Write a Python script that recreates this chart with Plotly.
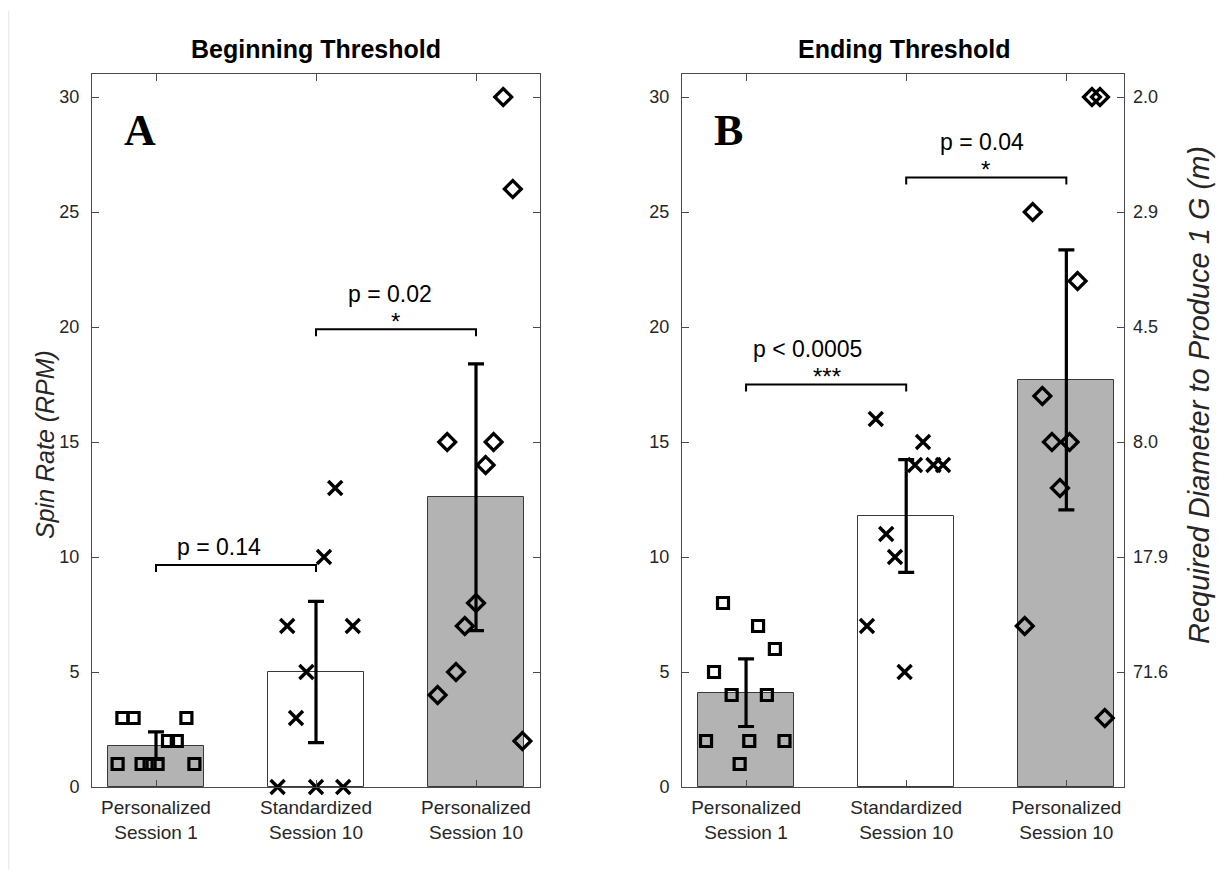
import plotly.graph_objects as go

# ---------------- data ----------------
categories = ["Personalized<br>Session 1", "Standardized<br>Session 10", "Personalized<br>Session 10"]
cat_pos = [1, 2, 3]

# Panel A - Beginning Threshold
a_s1_x = [0.79, 0.86, 1.19, 1.075, 1.13, 0.76, 0.91, 0.96, 1.01, 1.24]
a_s1_y = [3, 3, 3, 2, 2, 1, 1, 1, 1, 1]
a_std_x = [1.82, 2.23, 1.94, 1.875, 1.76, 2.0, 2.17, 2.05, 2.12]
a_std_y = [7, 7, 5, 3, 0, 0, 0, 10, 13]
a_p10_x = [3.17, 3.23, 2.82, 3.11, 3.06, 3.0, 2.93, 2.875, 2.76, 3.29]
a_p10_y = [30, 26, 15, 15, 14, 8, 7, 5, 4, 2]
a_means = [1.8, 5.0, 12.6]
a_err = [0.6, 3.07, 5.8]

# Panel B - Ending Threshold
b_s1_x = [0.856, 1.075, 1.18, 0.80, 0.91, 1.13, 0.75, 1.02, 1.24, 0.96]
b_s1_y = [8, 7, 6, 5, 4, 4, 2, 2, 2, 1]
b_std_x = [1.81, 2.105, 2.055, 2.17, 2.23, 1.875, 1.93, 1.755, 1.99]
b_std_y = [16, 15, 14, 14, 14, 11, 10, 7, 5]
b_p10_x = [3.16, 3.21, 2.79, 3.07, 2.85, 2.91, 3.02, 2.96, 2.74, 3.24]
b_p10_y = [30, 30, 25, 22, 17, 15, 15, 13, 7, 3]
b_means = [4.1, 11.78, 17.7]
b_err = [1.47, 2.45, 5.65]

# significance brackets: (from, to, level, p text, stars)
a_brackets = [(1, 2, 9.65, "p = 0.14", ""), (2, 3, 19.9, "p = 0.02", "*")]
b_brackets = [(1, 2, 17.5, "p < 0.0005", "***"), (2, 3, 26.5, "p = 0.04", "*")]

# right axis: diameter required to produce 1 G at given RPM
diam_ticks = [5, 10, 15, 20, 25, 30]
diam_labels = ["71.6", "17.9", "8.0", "4.5", "2.9", "2.0"]

bar_colors = ["#b3b3b3", "#ffffff", "#b3b3b3"]
FONT = "Liberation Sans"

# page body has an 8px margin; size the figure so it fits the 1228x878 window
OFF = 8
W, H = 1228 - 2 * OFF, 878 - 2 * OFF


def px(x):
    return (x - OFF) / W


def py(y):
    return 1 - (y - OFF) / H


fig = go.Figure()


def add_panel(xa, ya, s1x, s1y, stx, sty, p10x, p10y, means, err):
    fig.add_trace(go.Bar(
        x=cat_pos, y=means, width=0.6, xaxis=xa, yaxis=ya,
        marker=dict(color=bar_colors, line=dict(color="#3a3a3a", width=1)),
        error_y=dict(type="data", array=err, thickness=3.2, width=8, color="black"),
        showlegend=False, hoverinfo="skip"))
    fig.add_trace(go.Scatter(
        x=s1x, y=s1y, mode="markers", xaxis=xa, yaxis=ya, showlegend=False,
        marker=dict(symbol="square-open", size=11, color="black",
                    line=dict(width=3.2, color="black")), cliponaxis=False))
    fig.add_trace(go.Scatter(
        x=stx, y=sty, mode="markers", xaxis=xa, yaxis=ya, showlegend=False,
        marker=dict(symbol="x-thin", size=14, color="black",
                    line=dict(width=3.4, color="black")), cliponaxis=False))
    fig.add_trace(go.Scatter(
        x=p10x, y=p10y, mode="markers", xaxis=xa, yaxis=ya, showlegend=False,
        marker=dict(symbol="diamond-open", size=13, color="black",
                    line=dict(width=3.2, color="black")), cliponaxis=False))


add_panel("x", "y", a_s1_x, a_s1_y, a_std_x, a_std_y, a_p10_x, a_p10_y, a_means, a_err)
add_panel("x2", "y2", b_s1_x, b_s1_y, b_std_x, b_std_y, b_p10_x, b_p10_y, b_means, b_err)

annotations = []


def add_brackets(xa, ya, brackets, shifts):
    for (x1, x2, lev, ptxt, stars), (sx_p, sx_s) in zip(brackets, shifts):
        fig.add_trace(go.Scatter(
            x=[x1, x1, x2, x2], y=[lev - 0.3, lev, lev, lev - 0.3], mode="lines",
            xaxis=xa, yaxis=ya, showlegend=False, hoverinfo="skip",
            line=dict(color="black", width=2)))
        mid = (x1 + x2) / 2
        if stars:
            annotations.append(dict(x=mid, y=lev, xref=xa, yref=ya, text=ptxt,
                                    showarrow=False, xshift=sx_p, yshift=35,
                                    font=dict(family=FONT, size=23, color="black")))
            annotations.append(dict(x=mid, y=lev, xref=xa, yref=ya, text=stars,
                                    showarrow=False, xshift=sx_s, yshift=8,
                                    font=dict(family=FONT, size=24, color="black")))
        else:
            annotations.append(dict(x=mid, y=lev, xref=xa, yref=ya, text=ptxt,
                                    showarrow=False, xshift=sx_p, yshift=18,
                                    font=dict(family=FONT, size=23, color="black")))


add_brackets("x", "y", a_brackets, [(-17, 0), (-6, -1)])
add_brackets("x2", "y2", b_brackets, [(-19, 1), (-4, -1)])

# titles and panel letters
for xc, txt in [(316, "<b>Beginning Threshold</b>"), (904, "<b>Ending Threshold</b>")]:
    annotations.append(dict(x=px(xc), y=py(49), xref="paper", yref="paper", text=txt,
                            xanchor="center", yanchor="middle", showarrow=False,
                            font=dict(family=FONT, size=25, color="black")))
for xc, txt in [(140, "<b>A</b>"), (728, "<b>B</b>")]:
    annotations.append(dict(x=px(xc), y=py(130), xref="paper", yref="paper", text=txt,
                            xanchor="center", yanchor="middle", showarrow=False,
                            font=dict(family="Liberation Serif", size=44, color="black")))

# axis titles
annotations.append(dict(x=px(45), y=py(445), xref="paper", yref="paper",
                        text="<i>Spin Rate (RPM)</i>", textangle=-90, showarrow=False,
                        xanchor="center", yanchor="middle",
                        font=dict(family=FONT, size=25, color="#262626")))
annotations.append(dict(x=px(1199), y=py(395), xref="paper", yref="paper",
                        text="<i>Required Diameter to Produce 1 G (m)</i>", textangle=-90,
                        xanchor="center", yanchor="middle", showarrow=False,
                        font=dict(family=FONT, size=29, color="#262626")))

ydom = [py(787), py(74)]
axis_common = dict(showline=True, linecolor="#4a4a4a", linewidth=1, ticks="inside",
                   ticklen=7, tickcolor="#4a4a4a", mirror="ticks", showgrid=False,
                   zeroline=False, automargin=False)
yfont = dict(family=FONT, size=18, color="#262626")
xfont = dict(family=FONT, size=19, color="#262626")

fig.update_layout(
    width=W, height=H, margin=dict(l=0, r=0, t=0, b=0, autoexpand=False),
    paper_bgcolor="white", plot_bgcolor="white", bargap=0,
    xaxis=dict(domain=[px(92), px(540)], range=[0.6, 3.4], tickvals=cat_pos,
               ticktext=categories, anchor="y", tickfont=xfont,
               ticklabelstandoff=3, **axis_common),
    yaxis=dict(domain=ydom, range=[0, 31], tickvals=[0, 5, 10, 15, 20, 25, 30],
               anchor="x", ticklabelstandoff=8, tickfont=yfont, **axis_common),
    xaxis2=dict(domain=[px(682), px(1124)], range=[0.6, 3.36], tickvals=cat_pos,
                ticktext=categories, anchor="y2", tickfont=xfont,
                ticklabelstandoff=3, **axis_common),
    yaxis2=dict(domain=ydom, range=[0, 31], tickvals=[0, 5, 10, 15, 20, 25, 30],
                anchor="x2", ticklabelstandoff=8, tickfont=yfont, **axis_common),
    yaxis3=dict(overlaying="y2", side="right", anchor="x2", range=[0, 31],
                tickvals=diam_ticks, ticktext=diam_labels, ticks="inside", ticklen=7,
                tickcolor="#4a4a4a", showline=False, showgrid=False, zeroline=False,
                ticklabelstandoff=8, automargin=False, tickfont=yfont),
    annotations=annotations,
    shapes=[dict(type="line", xref="paper", yref="paper", x0=0.0006, x1=0.0006,
                 y0=0, y1=py(11), line=dict(color="#e6e6e6", width=1))],
)
# dummy trace so yaxis3 is drawn
fig.add_trace(go.Scatter(x=[None], y=[None], xaxis="x2", yaxis="y3", showlegend=False))

fig.write_html("out.html")
